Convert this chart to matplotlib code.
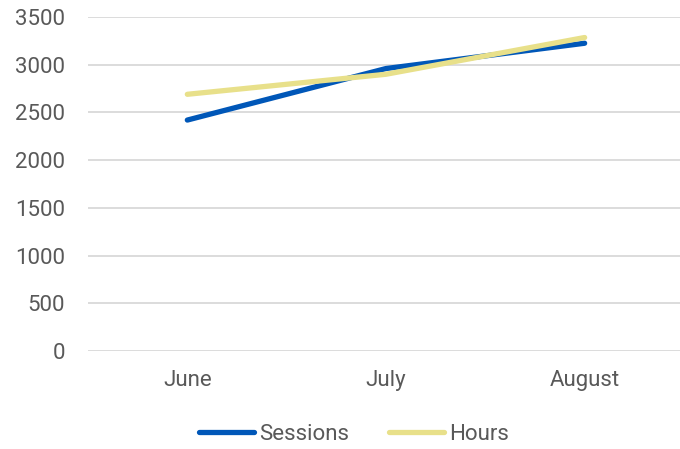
import matplotlib
matplotlib.use("Agg")
import matplotlib.pyplot as plt

months = ["June", "July", "August"]
sessions = [2420, 2960, 3225]
hours = [2690, 2900, 3285]
y_ticks = [0, 500, 1000, 1500, 2000, 2500, 3000, 3500]

plt.rcParams["font.family"] = ["Roboto", "DejaVu Sans"]
text_color = "#595959"
fsize = 16

fig = plt.figure(figsize=(6.8, 4.49), dpi=100)
ax = fig.add_axes([88 / 680, 1 - 351 / 449, 592 / 680, 334 / 449])

x = range(len(months))
ax.plot(x, sessions, color="#0057B8", lw=3.8, solid_capstyle="round", label="Sessions")
ax.plot(x, hours, color="#E8E08A", lw=3.8, solid_capstyle="round", label="Hours")

ax.set_xlim(-0.5, 2.48)
ax.set_ylim(0, 3500)
ax.set_yticks(y_ticks)
ax.set_xticks(list(x))
ax.set_xticklabels(months)
ax.yaxis.grid(True, color="#d9d9d9", lw=1.3)
ax.set_axisbelow(True)
for s in ax.spines.values():
    s.set_visible(False)
ax.tick_params(axis="both", length=0, labelsize=fsize, colors=text_color)
ax.tick_params(axis="y", pad=16.5)
ax.tick_params(axis="x", pad=14)

leg = fig.legend(loc="center", bbox_to_anchor=(0.52, 1 - 434 / 449), ncol=2,
                 frameon=False, fontsize=fsize, handlelength=2.5,
                 handletextpad=0.2, columnspacing=1.8)
for t in leg.get_texts():
    t.set_color(text_color)

fig.savefig("out.png", dpi=100)
